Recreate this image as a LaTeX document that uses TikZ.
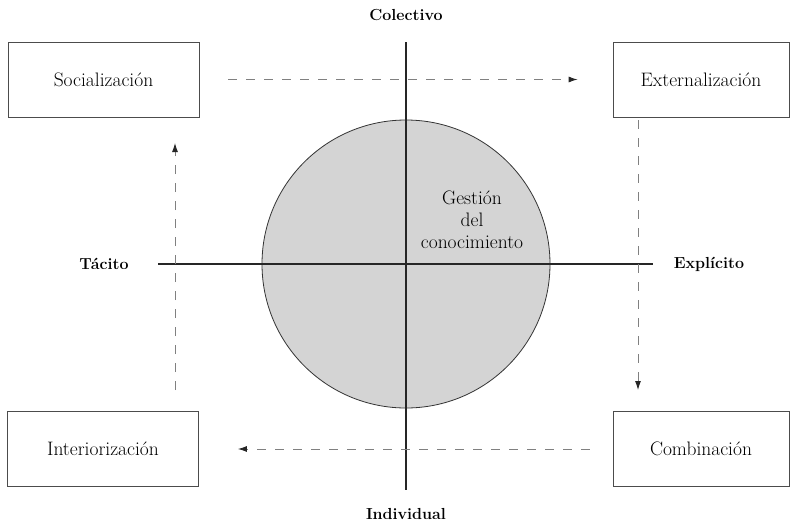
\documentclass[tikz,border=0pt]{standalone}
\usepackage{amsmath}
\usepackage{fontspec}
\usepackage{tikz}
\usetikzlibrary{arrows.meta}

\begin{document}
\begin{tikzpicture}[x=1pt,y=-1pt,
    caja/.style={draw=black!70, line width=0.8pt, minimum height=75pt, font=\fontsize{19.5}{23}\selectfont},
    eje/.style={black!85, line width=1.5pt},
    flecha/.style={draw=gray, line width=0.9pt, dash pattern=on 9pt off 9pt, -{Latex[length=9pt,width=6pt,color=black!85]}},
    rotulo/.style={font=\fontsize{16}{19}\selectfont\bfseries}]

\useasboundingbox (0,0) rectangle (796,528);

\fill[black!17] (406,264) circle [radius=144pt];
\draw[black!80, line width=0.8pt] (406,264) circle [radius=144pt];

\node[caja, minimum width=191pt] (soc) at (103.5,79.5) {Socializaci\'on};
\node[caja, minimum width=176pt] (ext) at (701,79.5) {Externalizaci\'on};
\node[caja, minimum width=191pt] (int) at (103,449) {Interiorizaci\'on};
\node[caja, minimum width=176pt] (com) at (701,449) {Combinaci\'on};

\coordinate (arriba) at (406,42);
\coordinate (abajo) at (406,490);
\coordinate (izq) at (158,264);
\coordinate (der) at (653,264);
\draw[eje] (arriba) -- (abajo);
\draw[eje] (izq) -- (der);

\node[rotulo] (col) at (406,15) {Colectivo};
\node[rotulo] (ind) at (406,514) {Individual};
\node[rotulo] (tac) at (104,264) {T\'acito};
\node[rotulo] (exp) at (709,264) {Expl\'icito};

\node[align=center, font=\fontsize{19.5}{22}\selectfont] (ges) at (472,220) {Gesti\'on\\del\\conocimiento};

%flechas
\coordinate (d1) at (638,120);
\coordinate (d2) at (638,390);
\coordinate (i1) at (175,390);
\coordinate (i2) at (175,143);
\draw[flecha, shorten <=29pt, shorten >=35pt] (soc.east) -- (ext.west);
\draw[flecha] (d1) -- (d2);
\draw[flecha, shorten <=23pt, shorten >=39pt] (com.west) -- (int.east);
\draw[flecha] (i1) -- (i2);

\end{tikzpicture}
\end{document}
